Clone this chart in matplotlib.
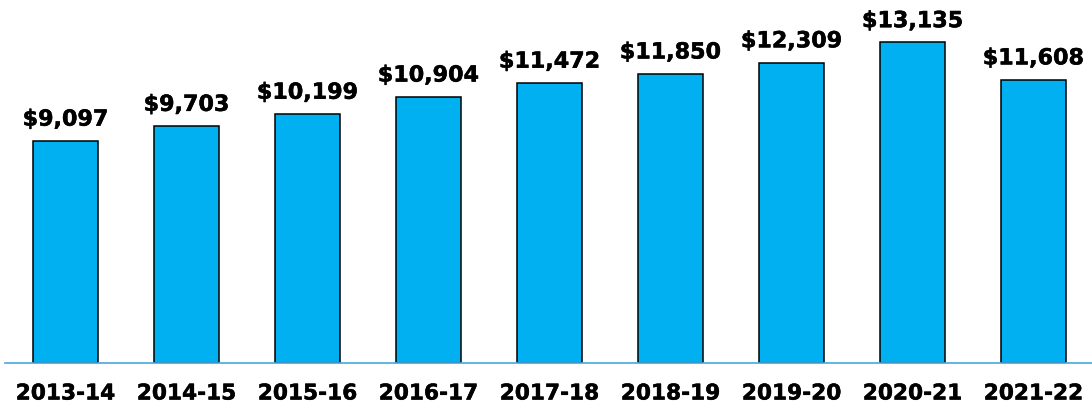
import matplotlib
matplotlib.use('Agg')
import matplotlib.pyplot as plt
import matplotlib.patheffects as pe

years = ['2013-14', '2014-15', '2015-16', '2016-17', '2017-18',
         '2018-19', '2019-20', '2020-21', '2021-22']
values = [9097, 9703, 10199, 10904, 11472, 11850, 12309, 13135, 11608]

W, H = 1092, 404
fig = plt.figure(figsize=(W / 100, H / 100), dpi=100)
# axes: zero line at ~363 px from top, left edge ~5 px
ax = fig.add_axes([5 / W, (H - 362.7) / H, 1087 / W, 362.7 / H])

x = range(len(years))
bars = ax.bar(x, values, width=0.545, color='#00B0F0',
              edgecolor='black', linewidth=1.1, zorder=2)

thick = [pe.withStroke(linewidth=0.35, foreground='black')]
for b, v in zip(bars, values):
    ax.annotate('${:,}'.format(v), (b.get_x() + b.get_width() / 2, v),
                xytext=(0, 11), textcoords='offset points',
                ha='center', va='baseline', fontsize=16,
                fontweight='bold', family='DejaVu Sans', path_effects=thick)

ax.set_xlim(-0.5, 8.5 - 2 / 121)
ax.set_ylim(0, 14877)
ax.set_xticks(list(x))
ax.set_xticklabels(years, fontsize=15.6, fontweight='bold', family='DejaVu Sans')
for t in ax.get_xticklabels():
    t.set_path_effects(thick)
ax.tick_params(axis='x', length=0, pad=15)
ax.set_yticks([])
for s in ['top', 'right', 'left']:
    ax.spines[s].set_visible(False)
ax.spines['bottom'].set_color('#45A9E0')
ax.spines['bottom'].set_linewidth(1.2)

fig.savefig('out.png', dpi=100)
